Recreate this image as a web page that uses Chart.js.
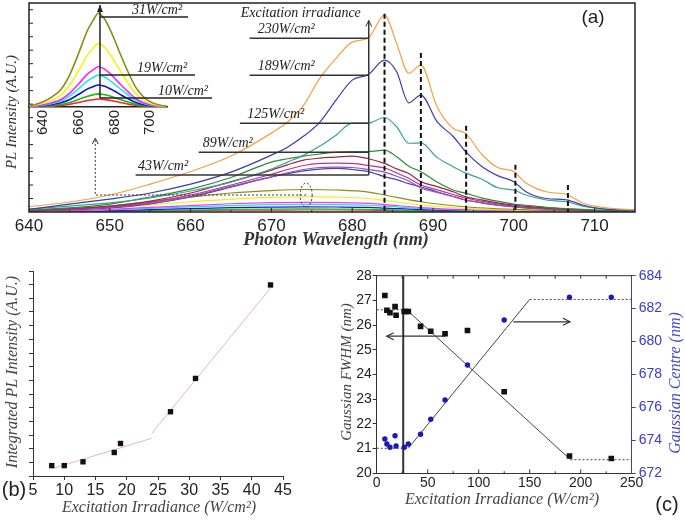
<!DOCTYPE html>
<html>
<head>
<meta charset="utf-8">
<script src="https://cdn.jsdelivr.net/npm/chart.js@4.4.0/dist/chart.umd.min.js"></script>
<style>
  body { margin: 0; background: #fff; width: 685px; height: 522px; position: relative; overflow: hidden; }
  canvas { position: absolute; }
</style>
</head>
<body>
<canvas id="chartA" width="685" height="250" style="left:0;top:0"></canvas>
<canvas id="chartInset" width="240" height="140" style="left:0;top:0"></canvas>
<canvas id="chartB" width="340" height="272" style="left:0;top:250px"></canvas>
<canvas id="chartC" width="350" height="272" style="left:335px;top:250px"></canvas>
<script>
// ---- (a) PL spectra, main window (A.U.)
const wlMain = [640, 645, 650, 655, 660, 665, 670, 672, 674, 676, 678, 680, 682, 684, 685.5, 687, 688.5, 690.5, 692.5, 694, 696, 698, 700, 701.5, 704, 706.5, 708.5, 711.5, 715];
const pl230 = [0.39, 0.74, 1.26, 2.07, 3.0, 4.15, 5.85, 6.67, 7.93, 9.93, 11.4, 12.6, 12.9, 14.6, 12.5, 10.3, 10.9, 7.8, 6.2, 5.85, 4.3, 3.3, 3.0, 2.15, 1.5, 1.3, 0.67, 0.3, 0.15];
const pl189 = [0.2, 0.59, 0.96, 1.41, 2.07, 2.96, 4.22, 4.81, 5.63, 6.67, 8.3, 9.78, 10.2, 11.26, 10.4, 8.1, 8.67, 6.7, 5.6, 4.5, 3.4, 2.7, 2.25, 1.5, 1.0, 0.9, 0.52, 0.2, 0.15];
const pl125 = [0.22, 0.44, 0.67, 1.04, 1.56, 2.22, 3.19, 3.7, 4.22, 4.89, 5.7, 6.59, 6.59, 7.01, 6.32, 5.1, 5.13, 4.05, 3.36, 2.9, 2.45, 1.8, 1.63, 1.26, 0.89, 0.76, 0.44, 0.22, 0.11];
const pl89 = [0.15, 0.3, 0.59, 1.11, 1.7, 2.56, 3.7, 3.95, 4.15, 4.3, 4.44, 4.48, 4.48, 4.59, 4.1, 3.4, 2.99, 2.22, 1.63, 1.4, 1.05, 0.8, 0.59, 0.5, 0.35, 0.25, 0.19, 0.12, 0.07];
const pl67 = [0.11, 0.25, 0.44, 0.81, 1.41, 2.25, 3.11, 3.5, 3.85, 4.0, 4.07, 4.15, 3.95, 3.61, 3.2, 2.85, 2.25, 1.88, 1.5, 1.14, 0.9, 0.68, 0.52, 0.42, 0.3, 0.22, 0.15, 0.1, 0.07];
const pl53 = [0.09, 0.2, 0.38, 0.72, 1.25, 2.0, 2.8, 3.15, 3.45, 3.6, 3.63, 3.6, 3.45, 3.26, 2.9, 2.5, 2.0, 1.65, 1.3, 1.04, 0.8, 0.6, 0.44, 0.36, 0.26, 0.18, 0.13, 0.08, 0.06];
const pl48 = [0.08, 0.18, 0.34, 0.64, 1.15, 1.9, 2.6, 2.9, 3.15, 3.3, 3.33, 3.3, 3.15, 2.96, 2.65, 2.3, 1.78, 1.45, 1.15, 0.89, 0.7, 0.52, 0.37, 0.3, 0.22, 0.15, 0.11, 0.07, 0.05];
const pl43 = [0.07, 0.15, 0.3, 0.6, 1.11, 1.85, 2.6, 2.85, 3.05, 3.18, 3.23, 3.15, 3.0, 2.62, 2.4, 2.1, 1.87, 1.5, 1.15, 0.89, 0.68, 0.5, 0.39, 0.3, 0.22, 0.15, 0.1, 0.07, 0.05];

// low-irradiance spectra seen near the baseline of the main window
const wlLow = [640, 645, 650, 655, 660, 665, 670, 674, 678, 682, 684, 688.5, 694, 700, 706, 715];
const pl31 = [0.07, 0.22, 0.44, 0.78, 1.11, 1.41, 1.59, 1.67, 1.63, 1.48, 1.26, 0.76, 0.39, 0.2, 0.11, 0.06];
const pl27 = [0.05, 0.15, 0.3, 0.53, 0.76, 0.96, 1.08, 1.13, 1.1, 1.0, 0.86, 0.52, 0.27, 0.14, 0.07, 0.04];
const pl19 = [0.03, 0.09, 0.19, 0.34, 0.48, 0.61, 0.69, 0.72, 0.7, 0.64, 0.55, 0.33, 0.17, 0.09, 0.05, 0.03];
const pl18 = [0.02, 0.07, 0.15, 0.27, 0.38, 0.48, 0.54, 0.57, 0.55, 0.5, 0.43, 0.26, 0.13, 0.07, 0.04, 0.02];
const pl13 = [0.02, 0.05, 0.1, 0.18, 0.25, 0.32, 0.36, 0.38, 0.37, 0.34, 0.29, 0.17, 0.09, 0.05, 0.03, 0.01];
const pl10 = [0.01, 0.03, 0.06, 0.11, 0.15, 0.19, 0.22, 0.23, 0.22, 0.2, 0.17, 0.1, 0.05, 0.03, 0.02, 0.01];
const pl8 = [0.01, 0.02, 0.04, 0.07, 0.1, 0.13, 0.14, 0.15, 0.15, 0.13, 0.11, 0.07, 0.04, 0.02, 0.01, 0.01];

// inset: magnified low-irradiance spectra
const wlInset = [632, 640, 645, 650, 655, 660, 665, 668, 671, 674, 677, 680, 684, 688, 692, 696, 700, 705, 710];
const in31 = [0.05, 0.39, 0.75, 1.3, 2.4, 4.0, 5.7, 6.4, 6.94, 6.6, 5.9, 5.0, 3.7, 2.5, 1.45, 0.8, 0.4, 0.15, 0.05];
const in27 = [0.03, 0.27, 0.51, 0.88, 1.63, 2.72, 3.88, 4.35, 4.7, 4.49, 4.01, 3.4, 2.52, 1.7, 0.99, 0.54, 0.27, 0.1, 0.03];
const in19 = [0.02, 0.17, 0.32, 0.56, 1.03, 1.72, 2.45, 2.75, 2.98, 2.84, 2.54, 2.15, 1.59, 1.08, 0.62, 0.34, 0.17, 0.06, 0.02];
const in18 = [0.02, 0.13, 0.26, 0.44, 0.82, 1.36, 1.94, 2.18, 2.36, 2.24, 2.01, 1.7, 1.26, 0.85, 0.49, 0.27, 0.14, 0.05, 0.02];
const in13 = [0.01, 0.09, 0.18, 0.31, 0.56, 0.94, 1.34, 1.5, 1.63, 1.55, 1.39, 1.18, 0.87, 0.59, 0.34, 0.19, 0.09, 0.04, 0.01];
const in10 = [0.01, 0.05, 0.11, 0.18, 0.34, 0.56, 0.8, 0.9, 0.97, 0.92, 0.83, 0.7, 0.52, 0.35, 0.2, 0.11, 0.06, 0.02, 0.01];
const in8 = [0.0, 0.03, 0.06, 0.11, 0.2, 0.34, 0.48, 0.54, 0.59, 0.56, 0.5, 0.43, 0.31, 0.21, 0.12, 0.07, 0.03, 0.01, 0.0];

// (a) annotations in data units
const labelIrr = ['230', '189', '125', '89', '43'];
const labelLevel = [12.89, 10.15, 6.59, 4.44, 2.74];
const labelStart = [667.3, 667.3, 666.1, 661.0, 653.2];
const labelTextNm = [668.3, 668.3, 667.0, 661.5, 653.5];
const peakNm = [684, 688.5, 694.1, 700.2, 706.7];
const peakTop = [14.7, 11.8, 6.4, 3.5, 2.0];
const insetIrr = ['31', '19', '10'];
const insetLevel = [6.67, 2.37, 0.67];
const insetLineEnd = [721.3, 725.2, 734.7];
const insetTextNm = [689.9, 692.7, 704.4];

// ---- (b) integrated PL intensity
const irrB = [8, 10, 13, 18, 19, 27, 31, 43];
const plB = [0.38, 0.38, 0.52, 0.86, 1.19, 2.35, 3.57, 6.99];
const fitLowX = [8.25, 24];
const fitLowY = [0.28, 1.38];
const fitHighX = [24, 43.2];
const fitHighY = [1.56, 6.93];

// ---- (c) Gaussian FWHM and centre
const irrFwhm = [8, 10, 13, 18, 19, 27, 29, 31, 43, 53, 67, 89, 125, 189, 230];
const fwhm = [27.2, 26.6, 26.5, 26.75, 26.4, 26.55, 26.55, 26.55, 25.95, 25.75, 25.65, 25.78, 23.3, 20.7, 20.6];
const irrCentre = [8, 10, 13, 18, 19, 27, 31, 43, 53, 67, 89, 125, 189, 230];
const centre = [674.08, 673.78, 673.58, 674.28, 673.66, 673.58, 673.78, 674.37, 675.28, 676.45, 678.58, 681.31, 682.69, 682.69];
const fwhmFitX = [0, 29.4, 190, 250];
const fwhmFitY = [26.62, 26.62, 20.55, 20.55];
const centreFitX = [0, 31, 150, 250];
const centreFitY = [673.52, 673.52, 682.56, 682.56];

Chart.defaults.animation = false;
Chart.defaults.font.family = "'Liberation Sans', Arial, sans-serif";
Chart.defaults.color = '#222';
Chart.defaults.plugins.legend.display = false;
Chart.defaults.plugins.tooltip.enabled = false;

const BLUE = '#3a3acc';
const serif = (size, bold) => (bold ? 'bold ' : '') + 'italic ' + size + "px 'Liberation Serif', 'DejaVu Serif', serif";

function pts(xs, ys) {
  return xs.map((x, i) => ({ x: x, y: ys[i] }));
}

function spectrum(xs, ys, color, width) {
  return { data: pts(xs, ys), borderColor: color, borderWidth: width || 1.2, pointRadius: 0, cubicInterpolationMode: 'monotone', fill: false };
}

function arrowHead(ctx, x, y, dir) {
  ctx.beginPath();
  if (dir === 'up') { ctx.moveTo(x - 3, y + 6); ctx.lineTo(x, y); ctx.lineTo(x + 3, y + 6); }
  if (dir === 'left') { ctx.moveTo(x + 7, y - 3.5); ctx.lineTo(x, y); ctx.lineTo(x + 7, y + 3.5); }
  if (dir === 'right') { ctx.moveTo(x - 7, y - 3.5); ctx.lineTo(x, y); ctx.lineTo(x - 7, y + 3.5); }
  ctx.stroke();
}

function line(ctx, x1, y1, x2, y2) {
  ctx.beginPath(); ctx.moveTo(x1, y1); ctx.lineTo(x2, y2); ctx.stroke();
}

function rotatedText(ctx, text, x, y) {
  ctx.save();
  ctx.translate(x, y);
  ctx.rotate(-Math.PI / 2);
  ctx.fillText(text, 0, 0);
  ctx.restore();
}

// ---------- (a) ----------
const annotateA = {
  id: 'annotateA',
  afterDatasetsDraw(chart) {
    const { ctx, chartArea: a, scales: { x, y } } = chart;
    ctx.save();
    ctx.strokeStyle = '#222';
    ctx.lineWidth = 1.5;
    ctx.strokeRect(a.left, a.top, a.right - a.left, a.bottom - a.top);

    // inward ticks
    ctx.lineWidth = 1;
    for (let v = 645; v < 715; v += 5) {
      const px = x.getPixelForValue(v);
      line(ctx, px, a.bottom, px, a.bottom - (v % 10 === 0 ? 4 : 2));
    }
    for (let v = 1; v <= 15; v++) {
      const py = y.getPixelForValue(v);
      line(ctx, a.left, py, a.left + 4, py);
    }

    // dashed peak markers
    ctx.strokeStyle = '#111';
    ctx.lineWidth = 2;
    ctx.setLineDash([5, 3]);
    peakNm.forEach((nm, i) => {
      const px = x.getPixelForValue(nm);
      line(ctx, px, y.getPixelForValue(peakTop[i]), px, a.bottom);
    });
    ctx.setLineDash([]);

    // irradiance label lines and vertical arrow
    const arrowX = x.getPixelForValue(682.05);
    ctx.strokeStyle = '#333';
    ctx.lineWidth = 1.5;
    ctx.fillStyle = '#222';
    ctx.font = serif(14);
    ctx.textBaseline = 'alphabetic';
    labelIrr.forEach((t, i) => {
      const py = y.getPixelForValue(labelLevel[i]);
      line(ctx, x.getPixelForValue(labelStart[i]), py, arrowX, py);
      ctx.fillText(t + 'W/cm\u00B2', x.getPixelForValue(labelTextNm[i]), py - 5);
    });
    line(ctx, arrowX, y.getPixelForValue(labelLevel[4]), arrowX, y.getPixelForValue(14.2));
    ctx.lineWidth = 1;
    arrowHead(ctx, arrowX, y.getPixelForValue(14.2), 'up');
    ctx.fillText('Excitation irradiance', x.getPixelForValue(666.2), y.getPixelForValue(14.45));

    // dotted pointer from the low-irradiance curves to the inset
    const ex = x.getPixelForValue(674.3), ey = y.getPixelForValue(1.26);
    ctx.setLineDash([2, 2]);
    ctx.strokeStyle = '#333';
    ctx.beginPath();
    ctx.ellipse(ex, ey, 6, 12, 0, 0, Math.PI * 2);
    ctx.stroke();
    const bx = x.getPixelForValue(648.2), by = y.getPixelForValue(5.48);
    ctx.beginPath();
    ctx.moveTo(ex, ey); ctx.lineTo(bx, ey); ctx.lineTo(bx, by);
    ctx.stroke();
    ctx.setLineDash([]);
    arrowHead(ctx, bx, by, 'up');
    ctx.restore();
  },
  afterDraw(chart) {
    const { ctx } = chart;
    ctx.save();
    ctx.fillStyle = '#333';
    ctx.textAlign = 'center';
    ctx.textBaseline = 'middle';
    ctx.font = serif(18, true);
    ctx.fillText('Photon Wavelength (nm)', 336, 240);
    ctx.font = serif(15);
    rotatedText(ctx, 'PL Intensity (A.U.)', 12, 112);
    ctx.fillStyle = '#222';
    ctx.font = "19px 'Liberation Sans', Arial, sans-serif";
    ctx.fillText('(a)', 593, 18);
    ctx.restore();
  }
};

new Chart(document.getElementById('chartA'), {
  type: 'line',
  data: {
    datasets: [
      spectrum(wlMain, pl230, '#f4a040'),
      spectrum(wlMain, pl189, '#3c3cac'),
      spectrum(wlMain, pl125, '#36a294'),
      spectrum(wlMain, pl89, '#2c8a34'),
      spectrum(wlMain, pl67, '#a0283c'),
      spectrum(wlMain, pl53, '#c0309a'),
      spectrum(wlMain, pl48, '#9050c0'),
      spectrum(wlMain, pl43, '#4646b4'),
      spectrum(wlLow, pl31, '#8c8c18'),
      spectrum(wlLow, pl27, '#eeee10'),
      spectrum(wlLow, pl19, '#ff30ff'),
      spectrum(wlLow, pl18, '#22dede'),
      spectrum(wlLow, pl13, '#1a1ae0'),
      spectrum(wlLow, pl10, '#18c018'),
      spectrum(wlLow, pl8, '#ff2a2a')
    ]
  },
  options: {
    responsive: false,
    layout: { padding: { left: 0, right: 50, top: 3, bottom: 0 } },
    scales: {
      x: {
        type: 'linear', min: 640, max: 715,
        afterFit: (s) => { s.height = 38; },
        ticks: { stepSize: 10, includeBounds: false, padding: 4, maxRotation: 0, autoSkip: false, font: { size: 17 }, color: '#222' },
        grid: { display: false, drawTicks: false },
        border: { display: false }
      },
      y: {
        min: 0, max: 15.5,
        afterFit: (s) => { s.width = 29; },
        ticks: { display: false },
        grid: { display: false, drawTicks: false },
        border: { display: false }
      }
    }
  },
  plugins: [annotateA]
});

// ---------- inset ----------
const annotateInset = {
  id: 'annotateInset',
  afterDatasetsDraw(chart) {
    const { ctx, scales: { x, y } } = chart;
    ctx.save();
    const vx = x.getPixelForValue(671.9);
    ctx.strokeStyle = '#222';
    ctx.fillStyle = '#222';
    ctx.lineWidth = 1.5;
    ctx.font = serif(14);
    insetIrr.forEach((t, i) => {
      const py = y.getPixelForValue(insetLevel[i]);
      line(ctx, vx, py, x.getPixelForValue(insetLineEnd[i]), py);
      ctx.fillText(t + 'W/cm\u00B2', x.getPixelForValue(insetTextNm[i]), py - 3);
    });
    const top = y.getPixelForValue(7.55);
    line(ctx, vx, y.getPixelForValue(insetLevel[2]), vx, top);
    ctx.beginPath();
    ctx.moveTo(vx - 3, top + 7); ctx.lineTo(vx, top); ctx.lineTo(vx + 3, top + 7);
    ctx.closePath();
    ctx.fill();
    ctx.restore();
  }
};

new Chart(document.getElementById('chartInset'), {
  type: 'line',
  data: {
    datasets: [
      spectrum(wlInset, in31, '#8a8a14', 1.6),
      spectrum(wlInset, in27, '#f4f410', 1.6),
      spectrum(wlInset, in19, '#ff20ff', 1.6),
      spectrum(wlInset, in18, '#20e8e8', 1.6),
      spectrum(wlInset, in13, '#1010d8', 1.6),
      spectrum(wlInset, in10, '#10c010', 1.6),
      spectrum(wlInset, in8, '#ff2020', 1.6)
    ]
  },
  options: {
    responsive: false,
    layout: { padding: { left: 0, right: 73, top: 3, bottom: 0 } },
    scales: {
      x: {
        type: 'linear', min: 632.1, max: 709.5,
        afterFit: (s) => { s.height = 33; },
        ticks: { stepSize: 20, includeBounds: false, minRotation: 90, maxRotation: 90, autoSkip: false, padding: 3, font: { size: 15 }, color: '#222' },
        grid: { display: false, drawTicks: false },
        border: { display: true, color: '#222', width: 1.5 }
      },
      y: {
        min: 0, max: 7.7,
        afterFit: (s) => { s.width = 29; },
        ticks: { display: false },
        grid: { display: false, drawTicks: false },
        border: { display: false }
      }
    }
  },
  plugins: [annotateInset]
});

// ---------- (b) ----------
const titlesB = {
  id: 'titlesB',
  afterDraw(chart) {
    const { ctx } = chart;
    ctx.save();
    ctx.fillStyle = '#444';
    ctx.textAlign = 'center';
    ctx.textBaseline = 'middle';
    ctx.font = serif(16);
    rotatedText(ctx, 'Integrated PL Intensity (A.U.)', 13, 122);
    ctx.fillText('Excitation Irradiance (W/cm\u00B2)', 159, 258);
    ctx.fillStyle = '#222';
    ctx.font = "20px 'Liberation Sans', Arial, sans-serif";
    ctx.fillText('(b)', 14, 240);
    ctx.restore();
  }
};

new Chart(document.getElementById('chartB'), {
  type: 'scatter',
  data: {
    datasets: [
      { data: pts(irrB, plB), pointStyle: 'rect', pointRadius: 3.8, pointBackgroundColor: '#111', pointBorderWidth: 0 },
      { data: pts(fitLowX, fitLowY), showLine: true, borderColor: '#e6b4bc', borderWidth: 1, pointRadius: 0 },
      { data: pts(fitHighX, fitHighY), showLine: true, borderColor: '#e6b4bc', borderWidth: 1, pointRadius: 0 }
    ]
  },
  options: {
    responsive: false,
    layout: { padding: { left: 0, right: 57, top: 21, bottom: 0 } },
    scales: {
      x: {
        type: 'linear', min: 5, max: 45,
        afterFit: (s) => { s.height = 46; },
        ticks: { stepSize: 5, padding: 1, maxRotation: 0, autoSkip: false, font: { size: 16 }, color: '#222' },
        grid: { drawOnChartArea: false, tickLength: 4, color: '#333' },
        border: { color: '#333' }
      },
      y: {
        min: 0, max: 7.5,
        afterFit: (s) => { s.width = 33; },
        ticks: { display: false, stepSize: 0.5 },
        grid: { drawOnChartArea: false, tickLength: 4, color: '#333' },
        border: { color: '#333' }
      }
    }
  },
  plugins: [titlesB]
});

// ---------- (c) ----------
const annotateC = {
  id: 'annotateC',
  beforeDatasetsDraw(chart) {
    const { ctx, chartArea: a, scales: { x, y, y2 } } = chart;
    ctx.save();
    ctx.strokeStyle = '#333';
    ctx.lineWidth = 1;
    line(ctx, a.left, a.top, a.right, a.top);
    for (let v = 25; v < 250; v += 25) {
      const px = x.getPixelForValue(v);
      line(ctx, px, a.top, px, a.top + 3);
      line(ctx, px, a.bottom, px, a.bottom - (v % 50 === 0 ? 4 : 2));
    }
    // threshold marker
    ctx.lineWidth = 2;
    const mx = x.getPixelForValue(26);
    line(ctx, mx, a.top, mx, a.bottom);
    // axis arrows
    ctx.lineWidth = 1.2;
    const ly = y.getPixelForValue(25.55);
    line(ctx, x.getPixelForValue(67), ly, x.getPixelForValue(9.8), ly);
    arrowHead(ctx, x.getPixelForValue(9.8), ly, 'left');
    const ry = y2.getPixelForValue(681.2);
    line(ctx, x.getPixelForValue(134), ry, x.getPixelForValue(189.5), ry);
    arrowHead(ctx, x.getPixelForValue(189.5), ry, 'right');
    ctx.restore();
  },
  afterDraw(chart) {
    const { ctx } = chart;
    ctx.save();
    ctx.textAlign = 'center';
    ctx.textBaseline = 'middle';
    ctx.font = serif(15);
    ctx.fillStyle = '#444';
    rotatedText(ctx, 'Gaussian FWHM (nm)', 12, 122);
    ctx.font = serif(16);
    ctx.fillText('Excitation Irradiance (W/cm\u00B2)', 167, 250);
    ctx.fillStyle = '#4848d0';
    ctx.font = serif(16);
    rotatedText(ctx, 'Gaussian Centre (nm)', 341, 133);
    ctx.fillStyle = '#222';
    ctx.font = "20px 'Liberation Sans', Arial, sans-serif";
    ctx.fillText('(c)', 332, 255);
    ctx.restore();
  }
};

const dottedEnds = (c) => (c.p0DataIndex === 1 ? [] : [2, 2]);

new Chart(document.getElementById('chartC'), {
  type: 'scatter',
  data: {
    datasets: [
      { data: pts(irrFwhm, fwhm), pointStyle: 'rect', pointRadius: 4, pointBackgroundColor: '#111', pointBorderWidth: 0, yAxisID: 'y' },
      { data: pts(irrCentre, centre), pointStyle: 'circle', pointRadius: 2.7, pointBackgroundColor: '#1a1ab8', pointBorderWidth: 0, yAxisID: 'y2' },
      { data: pts(fwhmFitX, fwhmFitY), showLine: true, borderColor: '#444', borderWidth: 1, pointRadius: 0, segment: { borderDash: dottedEnds }, yAxisID: 'y' },
      { data: pts(centreFitX, centreFitY), showLine: true, borderColor: '#444', borderWidth: 1, pointRadius: 0, segment: { borderDash: dottedEnds }, yAxisID: 'y2' }
    ]
  },
  options: {
    responsive: false,
    layout: { padding: { left: 0, right: 0, top: 25.7, bottom: 0 } },
    scales: {
      x: {
        type: 'linear', min: 0, max: 250,
        afterFit: (s) => { s.height = 48.7; },
        ticks: { stepSize: 50, padding: 1, maxRotation: 0, autoSkip: false, font: { size: 14 }, color: '#222' },
        grid: { display: false, drawTicks: false },
        border: { color: '#333' }
      },
      y: {
        position: 'left', min: 20, max: 28,
        afterFit: (s) => { s.width = 41.7; },
        ticks: { stepSize: 1, padding: 1, font: { size: 14 }, color: '#222' },
        grid: { drawOnChartArea: false, tickLength: 4, color: '#333' },
        border: { color: '#333' }
      },
      y2: {
        position: 'right', min: 672, max: 684,
        afterFit: (s) => { s.width = 53.3; },
        ticks: { stepSize: 2, padding: 3, font: { size: 14 }, color: BLUE },
        grid: { drawOnChartArea: false, tickLength: 4, color: BLUE },
        border: { color: BLUE }
      }
    }
  },
  plugins: [annotateC]
});
</script>
</body>
</html>
